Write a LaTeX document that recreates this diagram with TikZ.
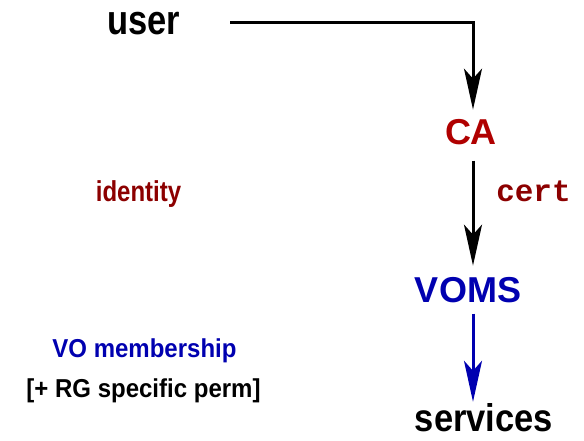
\documentclass[tikz,border=0pt]{standalone}
\usepackage{fontspec}
\setmainfont{Liberation Sans}
\setmonofont{Liberation Mono}
\usetikzlibrary{arrows.meta}
\definecolor{cared}{RGB}{176,0,0}
\definecolor{darkred}{RGB}{140,0,0}
\definecolor{vblue}{RGB}{0,0,176}
\newcommand{\tallA}[2]{\scalebox{1}[#1]{#2}}
\tikzset{
  lbl/.style={inner sep=0pt, anchor=base},
  big/.style={lbl, font=\fontsize{36}{42}\selectfont\bfseries},
  lower/.style={lbl, font=\fontsize{34.5}{40}\selectfont\bfseries},
  small/.style={lbl, font=\fontsize{24}{29}\selectfont\bfseries},
  arr/.style={line width=3pt, -{Stealth[length=41pt,width=18pt,inset=10pt]}},
}
\begin{document}
\begin{tikzpicture}[x=1pt,y=1pt]
\useasboundingbox (0,0) rectangle (584,441);
\node[lower] (user) at (143.5,406) {\tallA{1.2}{user}};
\node[big, text=cared] (CA) at (471,296) {CA};
\node[lbl, text=darkred, font=\fontsize{31}{36}\selectfont\ttfamily\bfseries] (cert) at (533.5,239) {cert};
\node[small, text=darkred] (identity) at (138.5,239) {\tallA{1.2}{identity}};
\node[big, text=vblue] (VOMS) at (468,138) {VOMS};
\node[lower] (services) at (484,9) {\tallA{1.12}{services}};
\node[small, text=vblue] (vo) at (144.5,83) {\tallA{1.08}{VO membership}};
\node[small] (rg) at (143.5,43) {\tallA{1.08}{[+ RG specific perm]}};
\coordinate (ustart) at ([xshift=50pt,yshift=2pt]user.east);
\draw[arr, shorten >=10pt] (ustart) -| ([xshift=2pt]CA.north);
\draw[arr, shorten <=15pt, shorten >=12pt] ([xshift=2pt]CA.south) -- ([xshift=5pt]VOMS.north);
\draw[arr, vblue, shorten <=10pt, shorten >=2pt] ([xshift=5pt]VOMS.south) -- ([xshift=-11pt]services.north);
\end{tikzpicture}
\end{document}
